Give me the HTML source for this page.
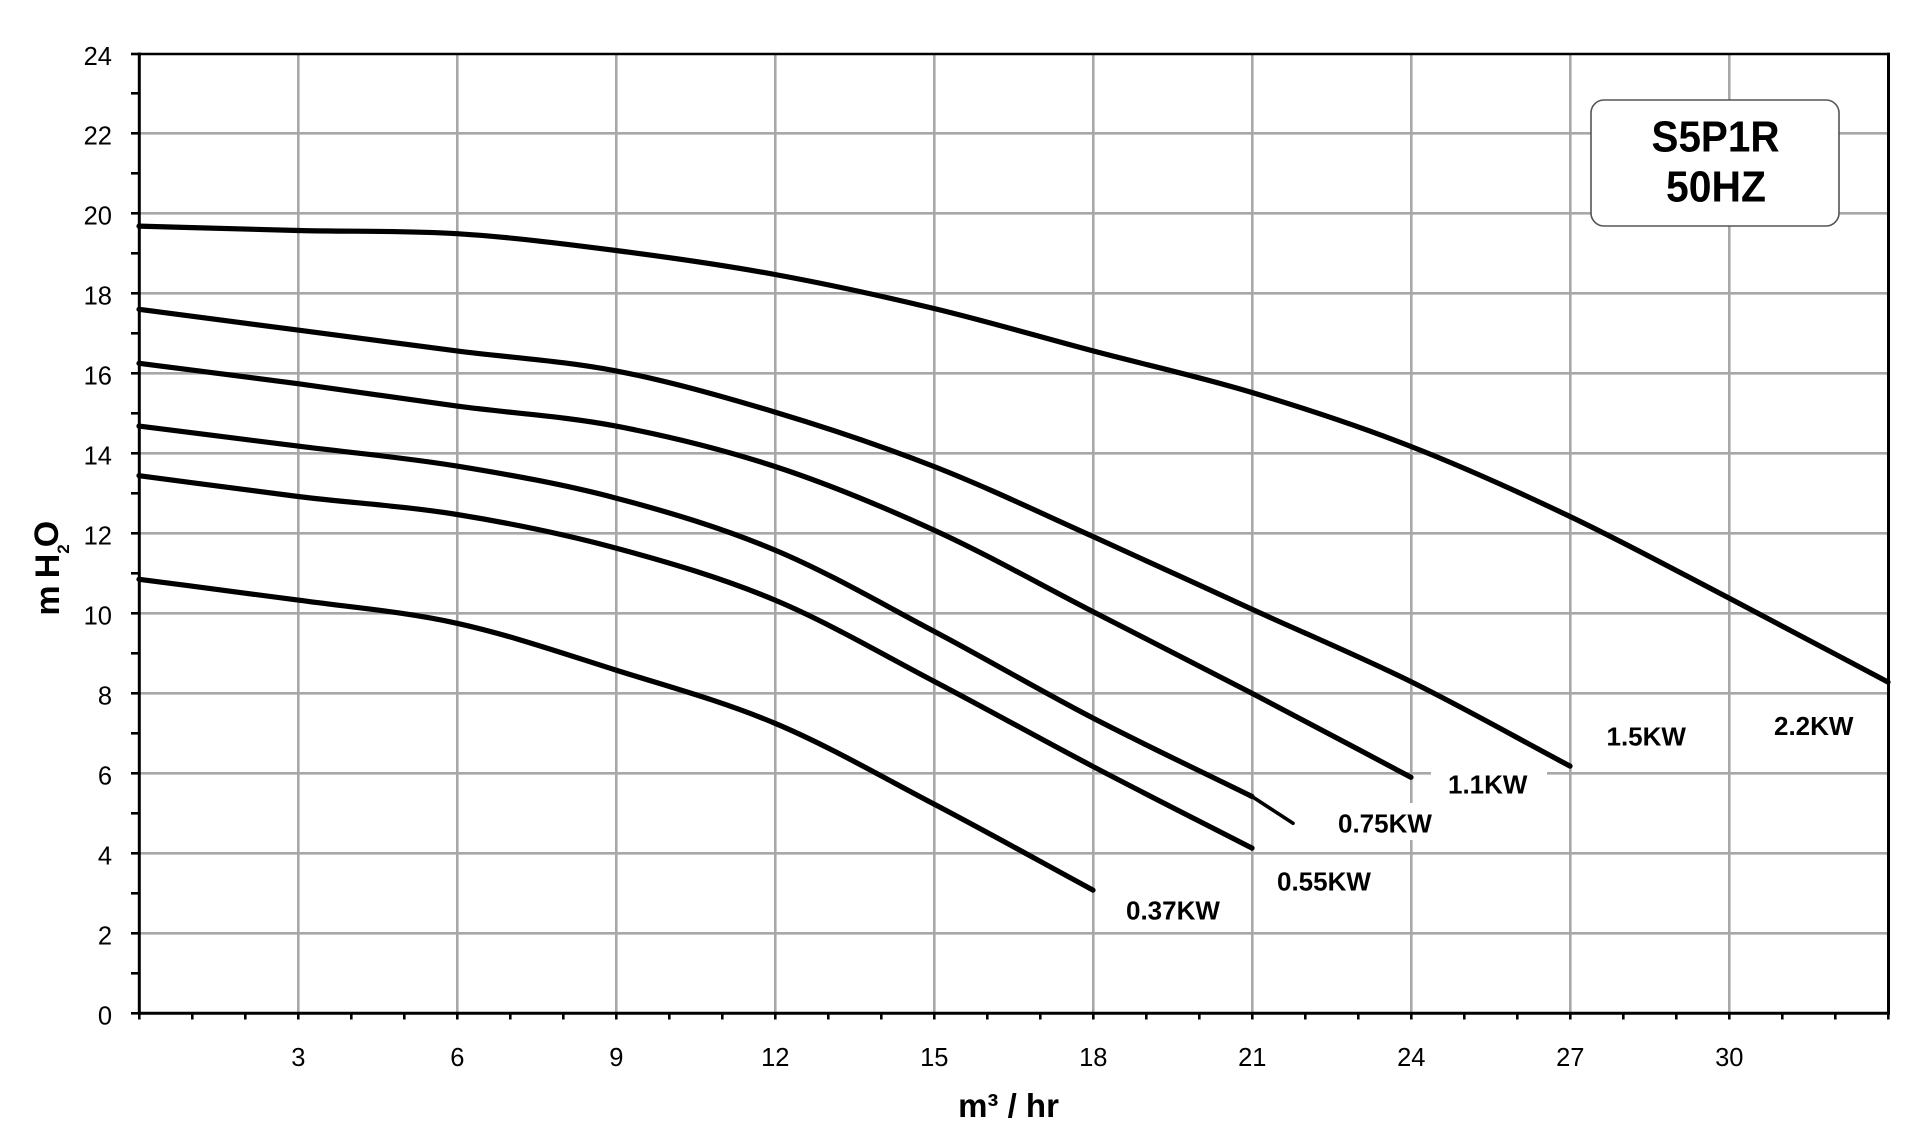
<!DOCTYPE html>
<html>
<head>
<meta charset="utf-8">
<style>
html,body{margin:0;padding:0;background:#fff;}
svg{display:block;}
text{font-family:"Liberation Sans",Arial,sans-serif;fill:#000;}
</style>
</head>
<body>
<svg width="1920" height="1143" viewBox="0 0 1920 1143" xmlns="http://www.w3.org/2000/svg">
<rect x="0" y="0" width="1920" height="1143" fill="#fff"/>
<!-- grid -->
<g stroke="#a8a8a8" stroke-width="2.6" fill="none">
<line x1="139" y1="933.3" x2="1888" y2="933.3"/>
<line x1="139" y1="853.3" x2="1888" y2="853.3"/>
<line x1="139" y1="773.3" x2="1888" y2="773.3"/>
<line x1="139" y1="693.3" x2="1888" y2="693.3"/>
<line x1="139" y1="613.3" x2="1888" y2="613.3"/>
<line x1="139" y1="533.3" x2="1888" y2="533.3"/>
<line x1="139" y1="453.3" x2="1888" y2="453.3"/>
<line x1="139" y1="373.3" x2="1888" y2="373.3"/>
<line x1="139" y1="293.3" x2="1888" y2="293.3"/>
<line x1="139" y1="213.3" x2="1888" y2="213.3"/>
<line x1="139" y1="133.3" x2="1888" y2="133.3"/>
<line x1="298.3" y1="54" x2="298.3" y2="1013"/>
<line x1="457.3" y1="54" x2="457.3" y2="1013"/>
<line x1="616.3" y1="54" x2="616.3" y2="1013"/>
<line x1="775.3" y1="54" x2="775.3" y2="1013"/>
<line x1="934.3" y1="54" x2="934.3" y2="1013"/>
<line x1="1093.3" y1="54" x2="1093.3" y2="1013"/>
<line x1="1252.3" y1="54" x2="1252.3" y2="1013"/>
<line x1="1411.3" y1="54" x2="1411.3" y2="1013"/>
<line x1="1570.3" y1="54" x2="1570.3" y2="1013"/>
<line x1="1729.3" y1="54" x2="1729.3" y2="1013"/>
</g>
<!-- label backgrounds -->
<rect x="1431" y="765" width="116" height="34" fill="#fff"/>
<rect x="1332" y="803" width="106" height="37" fill="#fff"/>
<!-- model box -->
<rect x="1591" y="100" width="248" height="126" rx="13" ry="13" fill="#fff" stroke="#555" stroke-width="1.6"/>
<text x="1715.5" y="151.7" font-size="44" font-weight="bold" text-anchor="middle" textLength="128" lengthAdjust="spacingAndGlyphs">S5P1R</text>
<text x="1716" y="201.7" font-size="44" font-weight="bold" text-anchor="middle" textLength="100" lengthAdjust="spacingAndGlyphs">50HZ</text>
<!-- curves -->
<g stroke="#000" stroke-width="5.2" fill="none" stroke-linecap="round" stroke-linejoin="round">
<path d="M139,226.1 C192,227.6 245,229.2 298,230.5 C351,231.8 404,230.4 457,233.7 C510,237.0 563,243.7 616,250.5 C669,257.3 722,264.8 775,274.5 C828,284.2 881,295.8 934,308.5 C987,321.2 1040,336.9 1093,350.9 C1146,364.9 1199,376.6 1252,392.5 C1305,408.4 1358,425.8 1411,446.5 C1464,467.2 1517,491.2 1570,516.5 C1623,541.8 1676,570.5 1729,598.1 C1782,625.7 1835,654.1 1888,682.1"/>
<path d="M139,309.3 C192,316.2 245,323.2 298,330.1 C351,337.0 404,344.1 457,350.9 C510,357.7 563,360.7 616,370.9 C669,381.1 722,396.2 775,412.1 C828,428.0 881,445.8 934,466.5 C987,487.2 1040,512.7 1093,536.5 C1146,560.3 1199,585.1 1252,609.3 C1305,633.5 1358,655.6 1411,681.7 C1464,707.8 1517,738.0 1570,766.1"/>
<path d="M139,363.3 C192,370.1 245,376.6 298,383.7 C351,390.8 404,399.0 457,406.1 C510,413.2 563,416.0 616,426.1 C669,436.2 722,449.2 775,466.5 C828,483.8 881,505.9 934,530.1 C987,554.3 1040,584.5 1093,611.7 C1146,638.9 1199,665.7 1252,693.3 C1305,720.9 1358,749.3 1411,777.3"/>
<path d="M139,426.1 C192,432.8 245,439.4 298,446.1 C351,452.8 404,457.4 457,466.1 C510,474.8 563,484.1 616,498.1 C669,512.1 722,527.9 775,550.1 C828,572.3 881,603.3 934,631.3 C987,659.3 1040,690.6 1093,718.1 C1146,745.6 1199,770.4 1252,796.5"/>
<path d="M139,475.7 C192,482.6 245,490.0 298,496.5 C351,503.0 404,505.9 457,514.5 C510,523.1 563,533.8 616,548.1 C669,562.4 722,577.9 775,600.1 C828,622.3 881,653.6 934,681.3 C987,709.0 1040,738.7 1093,766.5 C1146,794.3 1199,820.9 1252,848.1"/>
<path d="M139,579.3 C192,586.2 245,592.8 298,600.1 C351,607.4 404,611.6 457,623.3 C510,635.0 563,653.4 616,670.1 C669,686.8 722,701.0 775,723.3 C828,745.6 881,776.3 934,804.1 C987,831.9 1040,861.4 1093,890.1"/>
</g>
<line x1="1252" y1="796.5" x2="1293" y2="823.3" stroke="#000" stroke-width="3.6" stroke-linecap="round"/>
<!-- frame -->
<g stroke="#000" fill="none">
<line x1="139.3" y1="52.5" x2="139.3" y2="1014.8" stroke-width="3"/>
<line x1="138" y1="1013.3" x2="1890" y2="1013.3" stroke-width="3"/>
<line x1="138" y1="54" x2="1890" y2="54" stroke-width="2.6"/>
<line x1="1888.5" y1="52.7" x2="1888.5" y2="1014.8" stroke-width="3"/>
</g>
<!-- ticks -->
<g stroke="#000" stroke-width="2.6">
<line x1="131" y1="1013.3" x2="139" y2="1013.3"/><line x1="131" y1="973.3" x2="139" y2="973.3"/><line x1="131" y1="933.3" x2="139" y2="933.3"/><line x1="131" y1="893.3" x2="139" y2="893.3"/><line x1="131" y1="853.3" x2="139" y2="853.3"/><line x1="131" y1="813.3" x2="139" y2="813.3"/><line x1="131" y1="773.3" x2="139" y2="773.3"/><line x1="131" y1="733.3" x2="139" y2="733.3"/><line x1="131" y1="693.3" x2="139" y2="693.3"/><line x1="131" y1="653.3" x2="139" y2="653.3"/><line x1="131" y1="613.3" x2="139" y2="613.3"/><line x1="131" y1="573.3" x2="139" y2="573.3"/><line x1="131" y1="533.3" x2="139" y2="533.3"/><line x1="131" y1="493.3" x2="139" y2="493.3"/><line x1="131" y1="453.3" x2="139" y2="453.3"/><line x1="131" y1="413.3" x2="139" y2="413.3"/><line x1="131" y1="373.3" x2="139" y2="373.3"/><line x1="131" y1="333.3" x2="139" y2="333.3"/><line x1="131" y1="293.3" x2="139" y2="293.3"/><line x1="131" y1="253.3" x2="139" y2="253.3"/><line x1="131" y1="213.3" x2="139" y2="213.3"/><line x1="131" y1="173.3" x2="139" y2="173.3"/><line x1="131" y1="133.3" x2="139" y2="133.3"/><line x1="131" y1="93.3" x2="139" y2="93.3"/><line x1="131" y1="54" x2="139" y2="54"/>
<line x1="139.3" y1="1013" x2="139.3" y2="1019.5"/><line x1="192.3" y1="1013" x2="192.3" y2="1019.5"/><line x1="245.3" y1="1013" x2="245.3" y2="1019.5"/><line x1="298.3" y1="1013" x2="298.3" y2="1019.5"/><line x1="351.3" y1="1013" x2="351.3" y2="1019.5"/><line x1="404.3" y1="1013" x2="404.3" y2="1019.5"/><line x1="457.3" y1="1013" x2="457.3" y2="1019.5"/><line x1="510.3" y1="1013" x2="510.3" y2="1019.5"/><line x1="563.3" y1="1013" x2="563.3" y2="1019.5"/><line x1="616.3" y1="1013" x2="616.3" y2="1019.5"/><line x1="669.3" y1="1013" x2="669.3" y2="1019.5"/><line x1="722.3" y1="1013" x2="722.3" y2="1019.5"/><line x1="775.3" y1="1013" x2="775.3" y2="1019.5"/><line x1="828.3" y1="1013" x2="828.3" y2="1019.5"/><line x1="881.3" y1="1013" x2="881.3" y2="1019.5"/><line x1="934.3" y1="1013" x2="934.3" y2="1019.5"/><line x1="987.3" y1="1013" x2="987.3" y2="1019.5"/><line x1="1040.3" y1="1013" x2="1040.3" y2="1019.5"/><line x1="1093.3" y1="1013" x2="1093.3" y2="1019.5"/><line x1="1146.3" y1="1013" x2="1146.3" y2="1019.5"/><line x1="1199.3" y1="1013" x2="1199.3" y2="1019.5"/><line x1="1252.3" y1="1013" x2="1252.3" y2="1019.5"/><line x1="1305.3" y1="1013" x2="1305.3" y2="1019.5"/><line x1="1358.3" y1="1013" x2="1358.3" y2="1019.5"/><line x1="1411.3" y1="1013" x2="1411.3" y2="1019.5"/><line x1="1464.3" y1="1013" x2="1464.3" y2="1019.5"/><line x1="1517.3" y1="1013" x2="1517.3" y2="1019.5"/><line x1="1570.3" y1="1013" x2="1570.3" y2="1019.5"/><line x1="1623.3" y1="1013" x2="1623.3" y2="1019.5"/><line x1="1676.3" y1="1013" x2="1676.3" y2="1019.5"/><line x1="1729.3" y1="1013" x2="1729.3" y2="1019.5"/><line x1="1782.3" y1="1013" x2="1782.3" y2="1019.5"/><line x1="1835.3" y1="1013" x2="1835.3" y2="1019.5"/><line x1="1888.3" y1="1013" x2="1888.3" y2="1019.5"/>
</g>
<!-- y tick labels -->
<g font-size="25.5" text-anchor="end">
<text x="112" y="1024.3">0</text>
<text x="112" y="944.3">2</text>
<text x="112" y="864.3">4</text>
<text x="112" y="784.3">6</text>
<text x="112" y="704.3">8</text>
<text x="112" y="624.3">10</text>
<text x="112" y="544.3">12</text>
<text x="112" y="464.3">14</text>
<text x="112" y="384.3">16</text>
<text x="112" y="304.3">18</text>
<text x="112" y="224.3">20</text>
<text x="112" y="144.3">22</text>
<text x="112" y="65">24</text>
</g>
<!-- x tick labels -->
<g font-size="25.5" text-anchor="middle">
<text x="298.3" y="1066">3</text>
<text x="457.3" y="1066">6</text>
<text x="616.3" y="1066">9</text>
<text x="775.3" y="1066">12</text>
<text x="934.3" y="1066">15</text>
<text x="1093.3" y="1066">18</text>
<text x="1252.3" y="1066">21</text>
<text x="1411.3" y="1066">24</text>
<text x="1570.3" y="1066">27</text>
<text x="1729.3" y="1066">30</text>
</g>
<!-- axis titles -->
<text x="1008.5" y="1117" font-size="33" font-weight="bold" text-anchor="middle">m³ / hr</text>
<g font-weight="bold">
<text transform="translate(59,600.5) rotate(-90)" font-size="34" text-anchor="middle">m</text>
<text transform="translate(59,566) rotate(-90)" font-size="34" text-anchor="middle">H</text>
<text transform="translate(69,549) rotate(-90)" font-size="17" text-anchor="middle">2</text>
<text transform="translate(58,534) rotate(-90)" font-size="34" text-anchor="middle">O</text>
</g>
<!-- curve labels -->
<g font-size="26" font-weight="bold">
<text x="1448" y="793.3">1.1KW</text>
<text x="1338" y="832.3">0.75KW</text>
<text x="1277" y="890.7">0.55KW</text>
<text x="1126" y="919.3">0.37KW</text>
<text x="1606.5" y="745.7">1.5KW</text>
<text x="1774" y="735">2.2KW</text>
</g>
</svg>
</body>
</html>
